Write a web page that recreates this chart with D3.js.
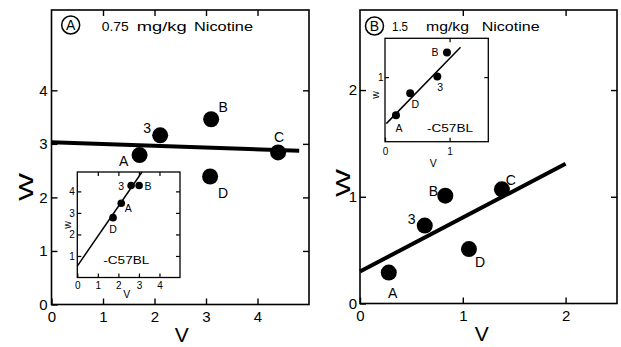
<!DOCTYPE html>
<html><head><meta charset="utf-8">
<script src="https://cdn.jsdelivr.net/npm/d3@7"></script>
<style>
html,body{margin:0;padding:0;background:#fff;}
svg{display:block;font-family:"Liberation Sans",Arial,sans-serif;}
</style></head>
<body>
<svg id="chart" width="621" height="347"></svg>
<script>
// ---------- DATA ----------
const groups = ["A", "3", "B", "C", "D"];
// Panel A: 0.75 mg/kg Nicotine
const panelA_V = [1.71, 2.11, 3.10, 4.40, 3.08];
const panelA_W = [2.79, 3.16, 3.46, 2.84, 2.39];
const panelA_fit = [[0, 3.03], [4.81, 2.87]];
// Panel A inset (C57BL)
const insetA_groups = ["A", "3", "B", "D"];
const insetA_V = [2.14, 2.62, 3.01, 1.74];
const insetA_W = [3.45, 4.27, 4.27, 2.78];
const insetA_fit = [[0, 0.53], [3.15, 4.9]];
// Panel B: 1.5 mg/kg Nicotine
const panelB_V = [0.28, 0.63, 0.83, 1.38, 1.06];
const panelB_W = [0.29, 0.73, 1.01, 1.07, 0.51];
const panelB_fit = [[0, 0.30], [2.0, 1.31]];
// Panel B inset (C57BL)
const insetB_groups = ["A", "3", "B", "D"];
const insetB_V = [0.17, 0.81, 0.96, 0.39];
const insetB_W = [0.41, 1.01, 1.38, 0.75];
const insetB_fit = [[0.02, 0.28], [1.17, 1.46]];

const ticksA_x = [0, 1, 2, 3, 4], ticksA_y = [0, 1, 2, 3, 4];
const ticksB_x = [0, 1, 2], ticksB_y = [0, 1, 2];
const ticksIA_x = [0, 1, 2, 3, 4], ticksIA_y = [1, 2, 3, 4];
const ticksIB_x = [0, 1], ticksIB_y = [1];

// ---------- DRAWING ----------
const svg = d3.select("#chart");
svg.append("rect").attr("width", 621).attr("height", 347).attr("fill", "#fff");

function frameAxes(g, x, y, o) {
  const [x0, x1] = x.range(), [y0, y1] = y.range();
  g.append("rect").attr("x", x0).attr("y", y1).attr("width", x1 - x0).attr("height", y0 - y1)
    .attr("fill", "#fff").attr("stroke", "#000").attr("stroke-width", o.frameW);
  const tl = o.tick;
  const bottom = g.append("g").attr("transform", `translate(0,${y0})`)
    .call(d3.axisBottom(x).tickValues(o.xt).tickSizeInner(-tl).tickSizeOuter(0).tickPadding(o.padX).tickFormat(d3.format("d")));
  const left = g.append("g").attr("transform", `translate(${x0},0)`)
    .call(d3.axisLeft(y).tickValues(o.yt).tickSizeInner(-tl).tickSizeOuter(0).tickPadding(o.padY).tickFormat(d3.format("d")));
  const top = g.append("g").attr("transform", `translate(0,${y1})`)
    .call(d3.axisTop(x).tickValues(o.xt.filter(d => d > 0)).tickSizeInner(-tl).tickSizeOuter(0).tickFormat(""));
  const right = g.append("g").attr("transform", `translate(${x1},0)`)
    .call(d3.axisRight(y).tickValues(o.yt.filter(d => d > 0)).tickSizeInner(-tl).tickSizeOuter(0).tickFormat(""));
  [bottom, left, top, right].forEach(a => {
    a.select(".domain").remove();
    a.selectAll("line").attr("stroke", "#000").attr("stroke-width", o.tickW);
    a.selectAll("text").attr("fill", "#000").attr("font-size", o.fs).attr("font-family", "Liberation Sans, Arial, sans-serif");
  });
}

function points(g, x, y, vs, ws, names, r, offs, fs) {
  const data = names.map((n, i) => ({n, v: vs[i], w: ws[i]}));
  g.selectAll(null).data(data).enter().append("circle")
    .attr("cx", d => x(d.v)).attr("cy", d => y(d.w)).attr("r", r).attr("fill", "#000");
  g.selectAll(null).data(data).enter().append("text")
    .attr("x", d => x(d.v) + offs[d.n][0]).attr("y", d => y(d.w) + offs[d.n][1])
    .attr("text-anchor", "middle").attr("dominant-baseline", "central")
    .attr("font-size", fs).text(d => d.n);
}

function fitLine(g, x, y, pts, w) {
  g.append("path").datum(pts)
    .attr("d", d3.line().x(d => x(d[0])).y(d => y(d[1])))
    .attr("stroke", "#000").attr("stroke-width", w).attr("fill", "none");
}

function title(g, cx, cy, letter, parts) {
  g.append("circle").attr("cx", cx).attr("cy", cy).attr("r", 9).attr("fill", "none")
    .attr("stroke", "#000").attr("stroke-width", 1.5);
  g.append("text").attr("x", cx).attr("y", cy + 5).attr("text-anchor", "middle")
    .attr("font-size", 14).text(letter);
  parts.forEach(p => {
    g.append("text").attr("x", p[1]).attr("y", 31).attr("font-size", 13)
      .attr("textLength", p[2]).attr("lengthAdjust", "spacingAndGlyphs").text(p[0]);
  });
}

function axisTitles(g, vx, vy, wx, wy, fs, wLen, wText, vText) {
  g.append("text").attr("x", vx).attr("y", vy).attr("text-anchor", "middle")
    .attr("font-size", fs).text(vText);
  const t = g.append("text").attr("transform", `translate(${wx},${wy}) rotate(-90)`)
    .attr("text-anchor", "middle").attr("dominant-baseline", "central").attr("font-size", fs).text(wText);
  if (wLen) t.attr("textLength", wLen).attr("lengthAdjust", "spacingAndGlyphs");
}

// ----- Panel A -----
const gA = svg.append("g");
const xA = d3.scaleLinear().domain([0, 5]).range([51.5, 309]);
const yA = d3.scaleLinear().domain([0, 5.5]).range([304.5, 10]);
frameAxes(gA, xA, yA, {xt: ticksA_x, yt: ticksA_y, tick: 6, padX: 7, padY: 4, fs: 15, frameW: 1.6, tickW: 1.4});
fitLine(gA, xA, yA, panelA_fit, 4);
points(gA, xA, yA, panelA_V, panelA_W, groups, 8,
  {A: [-16, 6], "3": [-13, -7], B: [12, -12], D: [13, 16], C: [1, -15]}, 14);
title(gA, 70.7, 25, "A", [["0.75", 101.7, 27], ["mg/kg", 136.7, 50], ["Nicotine", 194, 59]]);
axisTitles(gA, 181.7, 341.5, 25, 187, 21, 28, "W", "V");

// Inset A
const gIA = svg.append("g");
const xIA = d3.scaleLinear().domain([0, 5]).range([77.3, 180]);
const yIA = d3.scaleLinear().domain([0, 4.9]).range([277.5, 172]);
frameAxes(gIA, xIA, yIA, {xt: ticksIA_x, yt: ticksIA_y, tick: 4, padX: 4, padY: 2.5, fs: 10, frameW: 1.3, tickW: 1.2});
fitLine(gIA, xIA, yIA, insetA_fit, 1.5);
points(gIA, xIA, yIA, insetA_V, insetA_W, insetA_groups, 3.8,
  {A: [7, 5], "3": [-10, 0], B: [9, 0], D: [0, 11]}, 10.5);
gIA.append("text").attr("x", 126.3).attr("y", 260).attr("text-anchor", "middle").attr("dominant-baseline", "central")
  .attr("font-size", 10.5).attr("textLength", 46).attr("lengthAdjust", "spacingAndGlyphs").text("-C57BL");
axisTitles(gIA, 126.7, 298, 66.7, 225, 10.5, null, "w", "V");

// ----- Panel B -----
const gB = svg.append("g");
const xB = d3.scaleLinear().domain([0, 2.5]).range([360, 617]);
const yB = d3.scaleLinear().domain([0, 2.75]).range([303.5, 10]);
frameAxes(gB, xB, yB, {xt: ticksB_x, yt: ticksB_y, tick: 6, padX: 7, padY: 3, fs: 15, frameW: 1.6, tickW: 1.4});
fitLine(gB, xB, yB, panelB_fit, 4);
points(gB, xB, yB, panelB_V, panelB_W, groups, 8,
  {A: [4, 20], "3": [-13, -7], B: [-12, -5], D: [11, 13], C: [9, -9]}, 14);
title(gB, 374.5, 26, "B", [["1.5", 392, 16], ["mg/kg", 426, 43], ["Nicotine", 481.7, 58]]);
axisTitles(gB, 481.7, 341, 342, 183, 21, 28, "W", "V");

// Inset B
const gIB = svg.append("g");
const xIB = d3.scaleLinear().domain([0, 1.6]).range([385, 488.3]);
const yIB = d3.scaleLinear().domain([0, 1.6]).range([141.7, 38.3]);
frameAxes(gIB, xIB, yIB, {xt: ticksIB_x, yt: ticksIB_y, tick: 4, padX: 6.5, padY: 1.5, fs: 10, frameW: 1.3, tickW: 1.2});
fitLine(gIB, xIB, yIB, insetB_fit, 1.5);
points(gIB, xIB, yIB, insetB_V, insetB_W, insetB_groups, 4,
  {A: [3, 13], "3": [3, 11], B: [-12, -1], D: [5, 11]}, 10.5);
gIB.append("text").attr("x", 450).attr("y", 128.3).attr("text-anchor", "middle").attr("dominant-baseline", "central")
  .attr("font-size", 10.5).attr("textLength", 46).attr("lengthAdjust", "spacingAndGlyphs").text("-C57BL");
axisTitles(gIB, 433.3, 167, 375, 95, 10.5, null, "w", "V");
</script>
</body></html>
